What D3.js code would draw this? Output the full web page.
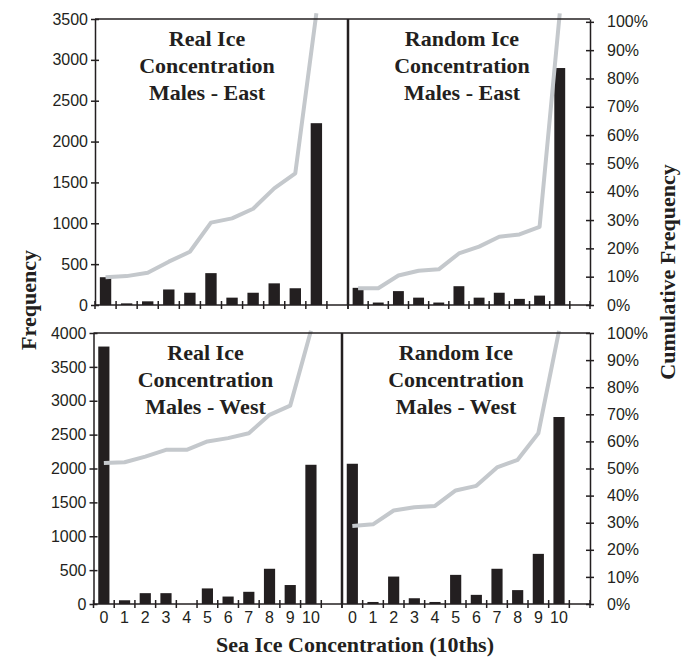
<!DOCTYPE html>
<html>
<head>
<meta charset="UTF-8">
<title>Sea Ice Concentration - Males</title>
<script src="https://cdn.jsdelivr.net/npm/d3@7"></script>
<style type="text/css">
body, html {
    margin: 0;
    padding: 0;
    background: #fff;
}

.axis text {
    font: 16px "Liberation Sans", Arial, sans-serif;
    fill: #231f20;
}

.axis path, .axis line {
    fill: none;
    stroke: #231f20;
    stroke-width: 1.5px;
}

.title {
    font: bold 22px "Liberation Serif", "Times New Roman", serif;
    fill: #231f20;
}
</style>
</head>
<body>

<div class="chart"></div>

<script type="text/javascript">
// categories: 0..10 tenths plus an empty slot at the end of each panel
var categories = ["0", "1", "2", "3", "4", "5", "6", "7", "8", "9", "10", ""];

var freqTicksTop    = [0, 500, 1000, 1500, 2000, 2500, 3000, 3500];
var freqTicksBottom = [0, 500, 1000, 1500, 2000, 2500, 3000, 3500, 4000];
var pctTicks        = [0, 0.1, 0.2, 0.3, 0.4, 0.5, 0.6, 0.7, 0.8, 0.9, 1];

var realEastFreq   = [340, 20, 45, 190, 150, 390, 90, 150, 265, 205, 2225];
var realEastCum    = [0.098, 0.102, 0.114, 0.153, 0.188, 0.291, 0.306, 0.34, 0.412, 0.465, 1.03];

var randomEastFreq = [210, 30, 170, 90, 30, 230, 90, 150, 75, 115, 2900];
var randomEastCum  = [0.059, 0.059, 0.104, 0.121, 0.126, 0.182, 0.206, 0.241, 0.249, 0.276, 1.03];

var realWestFreq   = [3800, 55, 160, 160, 0, 230, 110, 180, 520, 280, 2055];
var realWestCum    = [0.52, 0.523, 0.544, 0.569, 0.569, 0.60, 0.612, 0.63, 0.698, 0.732, 1.008];

var randomWestFreq = [2070, 30, 405, 85, 30, 430, 135, 520, 205, 740, 2760];
var randomWestCum  = [0.288, 0.294, 0.345, 0.357, 0.362, 0.419, 0.436, 0.504, 0.532, 0.63, 1.008];

var titleRealEast   = ["Real Ice", "Concentration", "Males - East"];
var titleRandomEast = ["Random Ice", "Concentration", "Males - East"];
var titleRealWest   = ["Real Ice", "Concentration", "Males - West"];
var titleRandomWest = ["Random Ice", "Concentration", "Males - West"];

var ink = "#231f20",
    lineGrey = "#c4c8cc";

var svg = d3.select(".chart")
    .append("svg")
    .attr("width", 689)
    .attr("height", 659)
    .style("display", "block");

var rows = [
    {top: 19, bottom: 305, freqMax: 3500, freqTicks: freqTicksTop, pctMax: 1.01, left: 95, mid: 348, right: 590, labels: false},
    {top: 333, bottom: 604, freqMax: 4000, freqTicks: freqTicksBottom, pctMax: 1.0, left: 93.5, mid: 342, right: 590, labels: true}
];

var panels = [
    {row: rows[0], side: "left",  title: titleRealEast,   freq: realEastFreq,   cum: realEastCum},
    {row: rows[0], side: "right", title: titleRandomEast, freq: randomEastFreq, cum: randomEastCum},
    {row: rows[1], side: "left",  title: titleRealWest,   freq: realWestFreq,   cum: realWestCum},
    {row: rows[1], side: "right", title: titleRandomWest, freq: randomWestFreq, cum: randomWestCum}
];

rows.forEach(function (r)
{
    r.y = d3.scaleLinear().domain([0, r.freqMax]).range([r.bottom, r.top]);
    r.p = d3.scaleLinear().domain([0, r.pctMax]).range([r.bottom, r.top]);
});

panels.forEach(function (pn)
{
    var r = pn.row,
        x0 = pn.side === "left" ? r.left : r.mid,
        x1 = pn.side === "left" ? r.mid : r.right;

    var x = d3.scaleBand()
        .domain(categories)
        .range([x0, x1])
        .paddingInner(0.46)
        .paddingOuter(0.23);

    var g = svg.append("g");

    // bars
    g.selectAll("rect")
        .data(pn.freq)
        .enter()
        .append("rect")
        .attr("x", function (d, i) { return x(categories[i]); })
        .attr("width", x.bandwidth())
        .attr("y", function (d) { return r.y(d); })
        .attr("height", function (d) { return r.bottom - r.y(d); })
        .style("fill", ink);

    // cumulative line
    var line = d3.line()
        .x(function (d, i) { return x(categories[i]) + x.bandwidth() / 2; })
        .y(function (d) { return r.p(d); });

    g.append("path")
        .datum(pn.cum)
        .attr("d", line)
        .attr("fill", "none")
        .attr("stroke", lineGrey)
        .attr("stroke-width", 4)
        .attr("stroke-linejoin", "round");

    // category axis: crossing ticks between categories
    var edges = d3.range(categories.length + 1).map(function (i)
    {
        return x0 + i * x.step();
    });

    g.selectAll("line.xt")
        .data(edges)
        .enter()
        .append("line")
        .attr("class", "xt")
        .attr("x1", function (d) { return d; })
        .attr("x2", function (d) { return d; })
        .attr("y1", r.bottom - 4)
        .attr("y2", r.bottom + 4)
        .attr("stroke", ink)
        .attr("stroke-width", 1.5);

    if (r.labels)
    {
        var xAxis = d3.axisBottom(x).tickSize(0).tickPadding(8);
        g.append("g")
            .attr("class", "axis")
            .attr("transform", "translate(0," + r.bottom + ")")
            .call(xAxis)
            .call(function (a) { a.select(".domain").remove(); });
    }

    // panel title
    var tx = x0 + (pn.side === "left" ? 112 : 114);
    var title = g.append("text")
        .attr("class", "title")
        .attr("text-anchor", "middle")
        .attr("x", tx)
        .attr("y", r.top + 27);

    title.selectAll("tspan")
        .data(pn.title)
        .enter()
        .append("tspan")
        .attr("x", tx)
        .attr("dy", function (d, i) { return i === 0 ? 0 : 27; })
        .text(function (d) { return d; });
});

rows.forEach(function (r)
{
    // baseline and top frame
    svg.append("line")
        .attr("x1", r.left).attr("x2", r.right)
        .attr("y1", r.bottom).attr("y2", r.bottom)
        .attr("stroke", ink).attr("stroke-width", 1.5);

    svg.append("line")
        .attr("x1", r.left).attr("x2", r.right)
        .attr("y1", r.top).attr("y2", r.top)
        .attr("stroke", ink).attr("stroke-width", 1.5);

    // divider between real and random panels
    svg.append("line")
        .attr("x1", r.mid).attr("x2", r.mid)
        .attr("y1", r.top).attr("y2", r.bottom)
        .attr("stroke", ink).attr("stroke-width", 2.5);

    // frequency axis
    var yAxis = d3.axisLeft(r.y)
        .tickValues(r.freqTicks)
        .tickSizeOuter(0)
        .tickSizeInner(4)
        .tickPadding(3)
        .tickFormat(d3.format("d"));

    svg.append("g")
        .attr("class", "axis")
        .attr("transform", "translate(" + r.left + ",0)")
        .call(yAxis)
        .call(function (a) { a.selectAll(".tick line").attr("x2", 4).attr("x1", -4); });

    // cumulative frequency axis
    var pAxis = d3.axisRight(r.p)
        .tickValues(pctTicks)
        .tickSizeOuter(0)
        .tickSizeInner(4)
        .tickPadding(13)
        .tickFormat(d3.format(".0%"));

    svg.append("g")
        .attr("class", "axis")
        .attr("transform", "translate(" + r.right + ",0)")
        .call(pAxis)
        .call(function (a) { a.selectAll(".tick line").attr("x2", 4).attr("x1", -4); });
});

// axis titles
svg.append("text")
    .attr("class", "title")
    .attr("text-anchor", "middle")
    .attr("transform", "translate(36,300) rotate(-90)")
    .text("Frequency");

svg.append("text")
    .attr("class", "title")
    .attr("text-anchor", "middle")
    .attr("transform", "translate(675,272) rotate(-90)")
    .text("Cumulative Frequency");

svg.append("text")
    .attr("class", "title")
    .attr("text-anchor", "middle")
    .attr("x", 355)
    .attr("y", 652)
    .text("Sea Ice Concentration (10ths)");
</script>
</body>
</html>
